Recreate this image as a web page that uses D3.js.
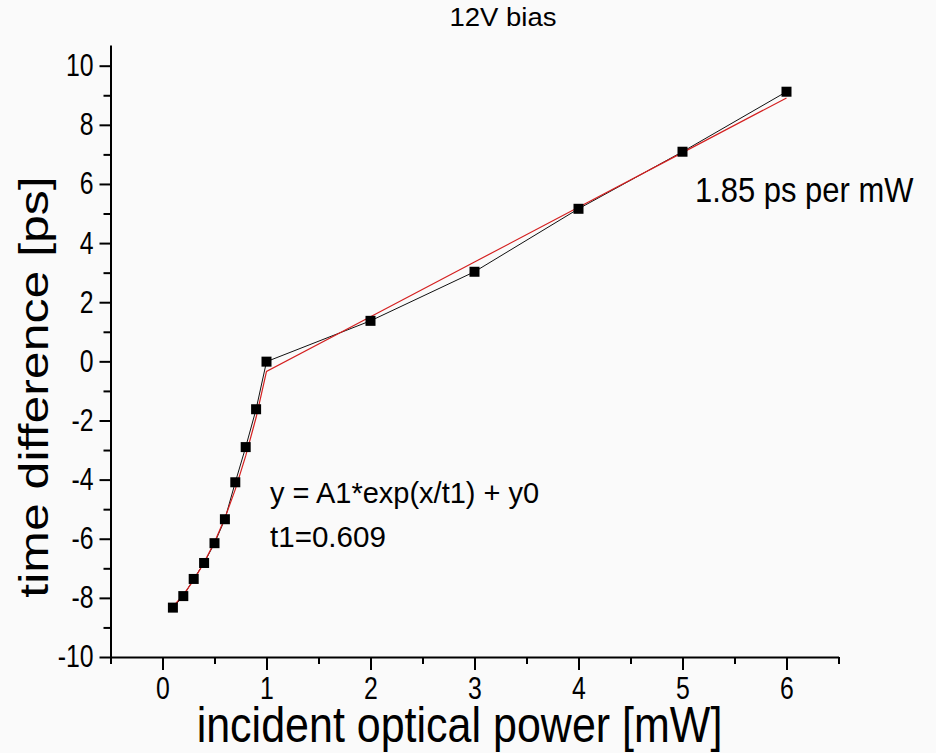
<!DOCTYPE html>
<html>
<head>
<meta charset="utf-8">
<script src="https://cdn.jsdelivr.net/npm/d3@7"></script>
<style>
  body { margin: 0; background: #fafafa; }
  svg { display: block; font-family: "Liberation Sans", Arial, sans-serif; }
</style>
</head>
<body>
<div id="chart"></div>
<script>
// measured points
const power = [0.1, 0.2, 0.3, 0.4, 0.5, 0.6, 0.7, 0.8, 0.9, 1, 2, 3, 4, 5, 6];
const timeDiff = [-8.33, -7.94, -7.36, -6.82, -6.15, -5.34, -4.09, -2.9, -1.62, -0.01, 1.37, 3.03, 5.16, 7.09, 9.12];

// red fit curve (exponential below 1 mW, linear above)
const fitPower = [0.1, 0.2, 0.3, 0.4, 0.5, 0.6, 0.7, 0.8, 0.9, 1, 2, 3, 4, 5, 6];
const fitTime = [-8.3, -7.9, -7.4, -6.8, -6.12, -5.3, -4.33, -3.2, -1.9, -0.34, 1.51, 3.36, 5.21, 7.06, 8.91];

const xTicks = [0, 1, 2, 3, 4, 5, 6];
const xMinorTicks = [-0.5, 0.5, 1.5, 2.5, 3.5, 4.5, 5.5, 6.5];
const yTicks = [-10, -8, -6, -4, -2, 0, 2, 4, 6, 8, 10];
const yMinorTicks = [-9, -7, -5, -3, -1, 1, 3, 5, 7, 9];

const width = 936;
const height = 753;
const margin = { top: 45, right: 97.5, bottom: 96, left: 110.5 };
const innerWidth = width - margin.left - margin.right;
const innerHeight = height - margin.top - margin.bottom;
const squeeze = 0.8;

const x = d3.scaleLinear().domain([-0.5, 6.5]).range([0, innerWidth]);
const y = d3.scaleLinear().domain([-10, 10.7]).range([innerHeight, 0]);

const svg = d3
  .select("#chart")
  .append("svg")
  .attr("width", width)
  .attr("height", height);

svg.append("rect").attr("width", width).attr("height", height).attr("fill", "#fafafa");

const g = svg
  .append("g")
  .attr("transform", `translate(${margin.left},${margin.top})`);

// axes
const xAxisG = g
  .append("g")
  .attr("transform", `translate(0,${innerHeight})`)
  .call(
    d3
      .axisBottom(x)
      .tickValues(xTicks)
      .tickFormat((d) => String(d))
      .tickSize(13)
      .tickPadding(7)
      .tickSizeOuter(0)
  );

g.append("g")
  .attr("transform", `translate(0,${innerHeight})`)
  .call(d3.axisBottom(x).tickValues(xMinorTicks).tickSize(7).tickFormat(""))
  .call((a) => a.select(".domain").remove());

const yAxisG = g
  .append("g")
  .call(
    d3
      .axisLeft(y)
      .tickValues(yTicks)
      .tickFormat((d) => String(d))
      .tickSize(11)
      .tickSizeOuter(0)
  );

g.append("g")
  .call(d3.axisLeft(y).tickValues(yMinorTicks).tickSize(7).tickFormat(""))
  .call((a) => a.select(".domain").remove());

g.selectAll(".domain, .tick line")
  .attr("stroke", "#000")
  .attr("stroke-width", 2);

xAxisG
  .selectAll("text")
  .attr("fill", "#000")
  .attr("font-size", 31)
  .attr("font-family", "Liberation Sans, Arial, sans-serif")
  .attr("transform", `scale(${squeeze},1)`);

yAxisG
  .selectAll("text")
  .attr("fill", "#000")
  .attr("font-size", 31)
  .attr("font-family", "Liberation Sans, Arial, sans-serif")
  .attr("x", -17 / squeeze)
  .attr("transform", `scale(${squeeze},1)`);

// lines
const line = d3
  .line()
  .x((d) => x(d[0]))
  .y((d) => y(d[1]));

g.append("path")
  .datum(d3.zip(power, timeDiff))
  .attr("fill", "none")
  .attr("stroke", "#111")
  .attr("stroke-width", 1)
  .attr("d", line);

g.append("path")
  .datum(d3.zip(fitPower, fitTime))
  .attr("fill", "none")
  .attr("stroke", "#d42020")
  .attr("stroke-width", 1.2)
  .attr("d", line);

const size = 10;
g.append("g")
  .selectAll("rect")
  .data(d3.zip(power, timeDiff))
  .join("rect")
  .attr("x", (d) => x(d[0]) - size / 2)
  .attr("y", (d) => y(d[1]) - size / 2)
  .attr("width", size)
  .attr("height", size)
  .attr("fill", "#000");

// texts
function addText(text, px, py, fontSize, sx, anchor, rotate) {
  svg
    .append("text")
    .attr(
      "transform",
      `translate(${px},${py}) scale(${sx},1)` + (rotate ? ` rotate(${rotate})` : "")
    )
    .attr("text-anchor", anchor || "start")
    .attr("font-size", fontSize)
    .attr("fill", "#000")
    .text(text);
}

addText("12V bias", 503, 26, 25, 1.1, "middle");
addText("time difference [ps]", 48, 387, 50, 0.8, "middle", -90);
addText("incident optical power [mW]", 459.5, 742, 50, 0.86, "middle");
addText("1.85 ps per mW", 695, 202, 36, 0.86);
addText("y = A1*exp(x/t1) + y0", 270, 503, 29, 1.0);
addText("t1=0.609", 270, 547, 29, 1.02);
</script>
</body>
</html>
